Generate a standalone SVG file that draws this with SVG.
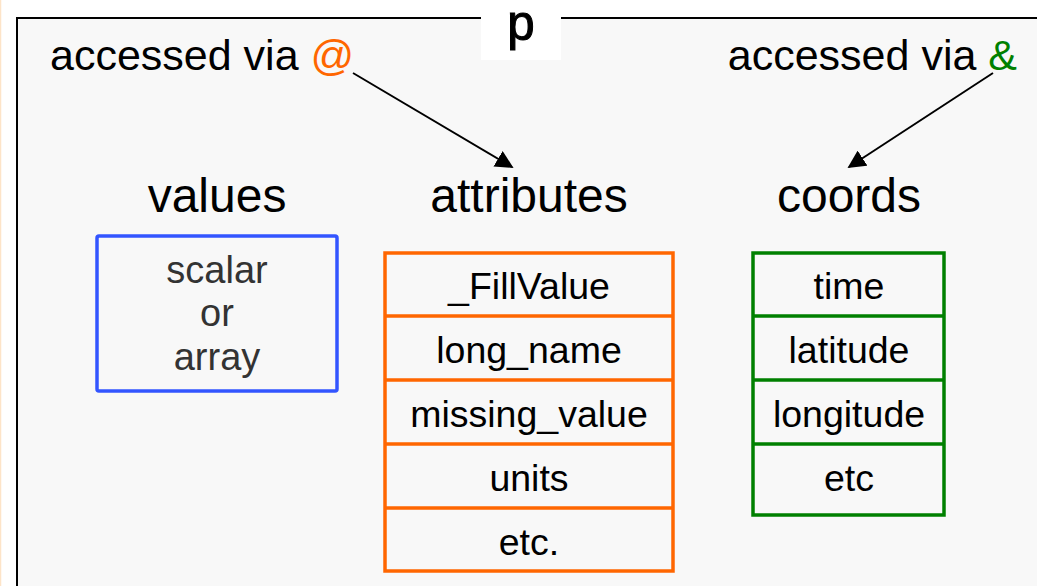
<svg xmlns="http://www.w3.org/2000/svg" width="1037" height="586" viewBox="0 0 1037 586">
  <style>
    .head { font-family: "Liberation Sans", Arial, sans-serif; font-size: 48px; fill: #000; text-anchor: middle; }
    .note { font-family: "Liberation Sans", Arial, sans-serif; font-size: 43px; fill: #000; }
    .cell { font-family: "Liberation Sans", Arial, sans-serif; font-size: 37.5px; fill: #000; text-anchor: middle; }
    .val { font-family: "Liberation Sans", Arial, sans-serif; font-size: 38px; fill: #333; text-anchor: middle; }
    .arrow { stroke: #000; stroke-width: 2; fill: none; marker-end: url(#tip); }
  </style>
  <defs>
    <marker id="tip" viewBox="0 0 10 10" refX="9" refY="5" markerWidth="18" markerHeight="18" markerUnits="userSpaceOnUse" orient="auto">
      <path d="M0,0 L10,5 L0,10 z" fill="#000"/>
    </marker>
  </defs>

  <rect width="1037" height="586" fill="#fff"/>
  <line x1="0.5" y1="0" x2="0.5" y2="586" stroke="#fde4c8" stroke-width="1.5"/>

  <!-- outer frame for variable p -->
  <g id="frame">
    <rect x="17" y="18" width="1040" height="600" fill="#f8f8f8" stroke="#000" stroke-width="2"/>
    <rect x="481" y="0" width="80" height="60" fill="#fff"/>
    <text x="521" y="40" font-family="'Liberation Mono', 'Courier New', monospace" font-size="50" text-anchor="middle" fill="#000" stroke="#000" stroke-width="1">p</text>
  </g>

  <g id="note-at">
    <text class="note" x="50" y="70">accessed via <tspan fill="#ff6600">@</tspan></text>
  </g>
  <g id="note-amp">
    <text class="note" x="1017" y="70" text-anchor="end">accessed via <tspan fill="#008000">&amp;</tspan></text>
  </g>

  <g id="values">
    <text class="head" x="217" y="212">values</text>
    <rect x="97" y="236" width="240" height="155" fill="none" stroke="#3355ff" stroke-width="3.5" rx="2"/>
    <text class="val" x="217" y="283">scalar</text>
    <text class="val" x="217" y="326">or</text>
    <text class="val" x="217" y="370">array</text>
  </g>

  <g id="attributes">
    <text class="head" x="529" y="212">attributes</text>
    <g fill="none" stroke="#ff6600" stroke-width="3.5">
      <rect x="385" y="253" width="288" height="318"/>
      <line x1="385" y1="316" x2="673" y2="316"/>
      <line x1="385" y1="380" x2="673" y2="380"/>
      <line x1="385" y1="444" x2="673" y2="444"/>
      <line x1="385" y1="508" x2="673" y2="508"/>
    </g>
    <text class="cell" x="529" y="299">_FillValue</text>
    <text class="cell" x="529" y="363">long_name</text>
    <text class="cell" x="529" y="427">missing_value</text>
    <text class="cell" x="529" y="491">units</text>
    <text class="cell" x="529" y="555">etc.</text>
  </g>

  <g id="coords">
    <text class="head" x="849" y="212">coords</text>
    <g fill="none" stroke="#008000" stroke-width="3.5">
      <rect x="753" y="253" width="191" height="262"/>
      <line x1="753" y1="316" x2="944" y2="316"/>
      <line x1="753" y1="380" x2="944" y2="380"/>
      <line x1="753" y1="444" x2="944" y2="444"/>
    </g>
    <text class="cell" x="849" y="299">time</text>
    <text class="cell" x="849" y="363">latitude</text>
    <text class="cell" x="849" y="427">longitude</text>
    <text class="cell" x="849" y="491">etc</text>
  </g>

  <g id="connectors">
    <line class="arrow" x1="353" y1="73" x2="512" y2="167"/>
    <line class="arrow" x1="993" y1="73" x2="849" y2="167"/>
  </g>
</svg>
